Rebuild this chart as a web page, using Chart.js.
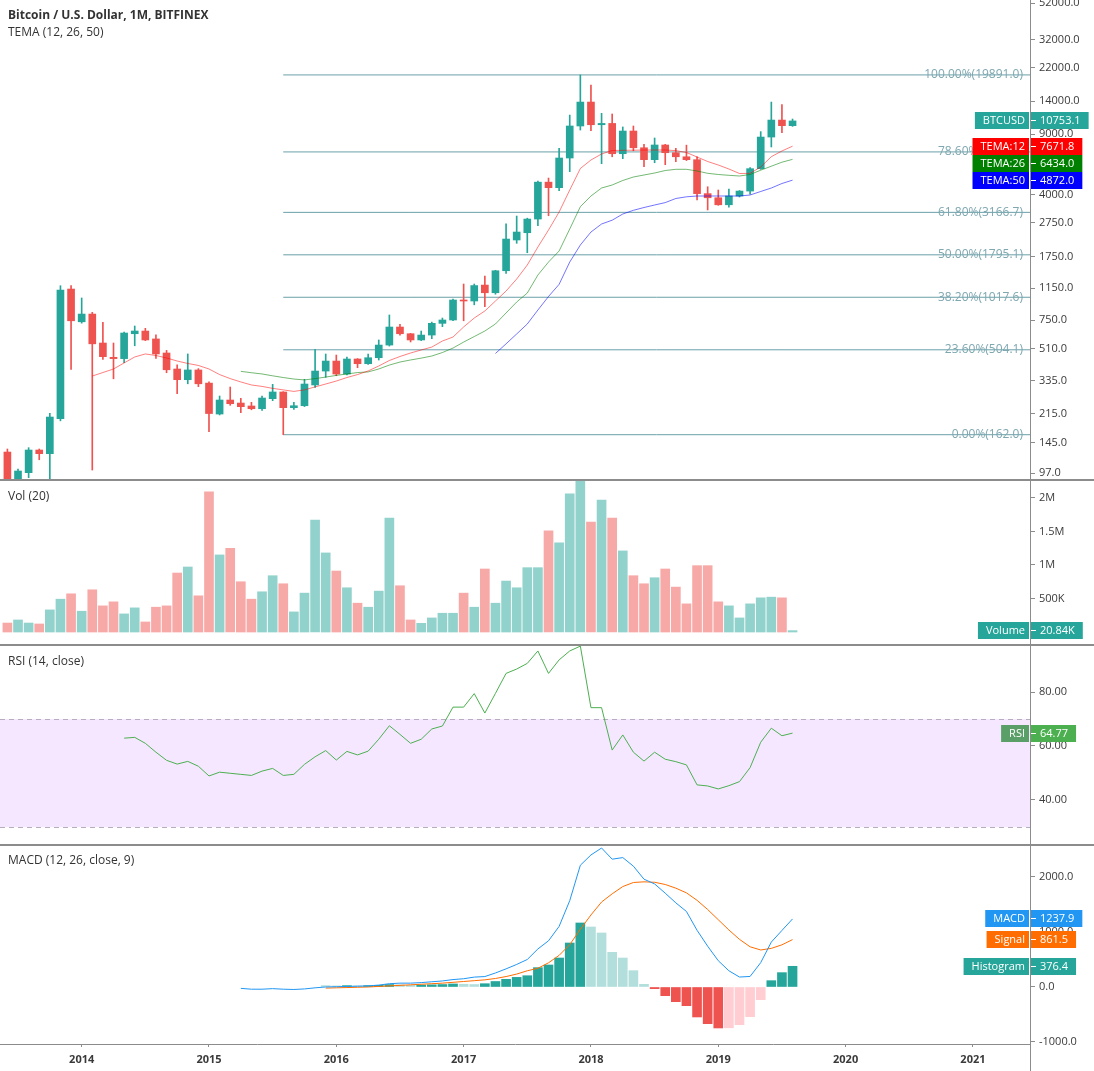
<!DOCTYPE html>
<html>
<head>
<meta charset="utf-8">
<title>Bitcoin / U.S. Dollar, 1M, BITFINEX</title>
<script src="https://cdn.jsdelivr.net/npm/chart.js@4.4.1/dist/chart.umd.min.js"></script>
<style>
  body { margin: 0; background: #fff; }
  #board { position: relative; width: 1094px; height: 1071px; overflow: hidden; background: #fff; }
  #board canvas { position: absolute; left: 0; }
  .sep { position: absolute; left: 0; width: 1094px; height: 2px; background: #8c8c8c; }
  .axisline { position: absolute; left: 1030px; width: 1px; background: #8c8c8c; }
</style>
</head>
<body>
<div id="board">
  <canvas id="price" width="1094" height="479" style="top:0"></canvas>
  <div class="sep" style="top:479px"></div>
  <canvas id="vol" width="1094" height="163" style="top:481px"></canvas>
  <div class="sep" style="top:644px"></div>
  <canvas id="rsi" width="1094" height="198" style="top:646px"></canvas>
  <div class="sep" style="top:844px"></div>
  <canvas id="macd" width="1094" height="225" style="top:846px"></canvas>
  <div class="axisline" style="top:1044px;height:27px"></div>
</div>
<script>
// monthly bars, Jun 2013 .. Aug 2019
const months = [
  '2013-06','2013-07','2013-08','2013-09','2013-10','2013-11','2013-12',
  '2014-01','2014-02','2014-03','2014-04','2014-05','2014-06','2014-07','2014-08','2014-09','2014-10','2014-11','2014-12',
  '2015-01','2015-02','2015-03','2015-04','2015-05','2015-06','2015-07','2015-08','2015-09','2015-10','2015-11','2015-12',
  '2016-01','2016-02','2016-03','2016-04','2016-05','2016-06','2016-07','2016-08','2016-09','2016-10','2016-11','2016-12',
  '2017-01','2017-02','2017-03','2017-04','2017-05','2017-06','2017-07','2017-08','2017-09','2017-10','2017-11','2017-12',
  '2018-01','2018-02','2018-03','2018-04','2018-05','2018-06','2018-07','2018-08','2018-09','2018-10','2018-11','2018-12',
  '2019-01','2019-02','2019-03','2019-04','2019-05','2019-06','2019-07','2019-08'
];

const open = [
  128.5, 88, 97.5, 132, 125.7, 200.6, 1136, 733, 813, 552,
  456, 448, 625, 648, 583, 483, 390, 338, 385, 323,
  213.6, 257.6, 247.4, 237.8, 229.3, 262.2, 286.8, 232.5, 238.7, 315,
  379.5, 433.8, 364.6, 445.8, 418.6, 453.5, 537, 683.6, 625, 575,
  614, 718, 751, 981, 968, 1198, 1081, 1451, 2189, 2412,
  2896, 4743, 4404, 6551, 10050, 13840, 10220, 10400, 6937, 9395,
  7513, 6405, 7795, 7030, 6660, 6405, 4068, 3850, 3505, 3941,
  4210, 5680, 8670, 10880, 10090
];
const high = [
  133.8, 102.4, 136.2, 133.8, 215.7, 1188, 1188, 1008, 832, 727,
  552, 639, 693, 672, 615, 500, 412, 477, 392, 329,
  271.8, 306.5, 263.5, 249.8, 271.8, 317.6, 288, 249.8, 339.7, 507,
  476.6, 470, 458, 448, 476, 575, 803, 709, 628, 648,
  730, 771, 994, 1215, 1215, 1352, 1460, 2713, 3015, 2930,
  4810, 5010, 7460, 11630, 19891, 17370, 11900, 11800, 9920, 10050,
  7863, 8560, 7865, 7460, 7780, 6660, 4460, 4270, 4325, 4240,
  5755, 9320, 13840, 13360, 11030
];
const low = [
  85, 65, 91.2, 115.9, 88, 195, 388, 720, 101, 444,
  342, 424, 532, 570, 450, 371, 280, 320, 308, 168.7,
  211, 240, 217.5, 226, 224.5, 255.3, 162, 227.5, 236, 305,
  349, 356.4, 360, 396.8, 414, 439.7, 530, 614, 560, 570,
  585, 687, 745, 743, 920, 897, 1060, 1400, 2094, 1846,
  2651, 3027, 4236, 5459, 9520, 9430, 6070, 6660, 6490, 7217,
  5836, 6148, 5990, 6235, 6330, 3738, 3270, 3480, 3400, 3890,
  4035, 5630, 7590, 9190, 10000
];
const close = [
  88, 99.7, 132, 125.7, 205.2, 1121, 743, 813, 546, 460,
  448, 631, 648, 575, 477, 386, 338, 385, 320, 215,
  257.6, 245.2, 235.6, 229.3, 264.6, 286.8, 232.5, 238.7, 319, 379.5,
  433.8, 364.6, 445.8, 418.6, 453.5, 537.1, 683.6, 625, 575, 614,
  718, 751, 981, 968, 1190, 1081, 1451, 2217, 2434, 2896,
  4743, 4404, 6551, 10050, 13840, 10220, 10400, 6937, 9395, 7513,
  6405, 7795, 7030, 6660, 6405, 4068, 3850, 3505, 3941, 4210,
  5680, 8670, 10880, 10090, 10753.1
];
const volume = [
  134000, 180000, 134000, 120000, 330000, 490000, 570000, 310000, 630000, 390000,
  450000, 270000, 360000, 150000, 370000, 390000, 880000, 970000, 540000, 2090000,
  1150000, 1250000, 750000, 490000, 600000, 840000, 720000, 300000, 580000, 1670000,
  1180000, 910000, 660000, 430000, 370000, 610000, 1700000, 690000, 180000, 130000,
  210000, 280000, 280000, 580000, 370000, 940000, 430000, 760000, 660000, 960000,
  960000, 1510000, 1330000, 2060000, 2253000, 1640000, 1970000, 1700000, 1210000, 840000,
  720000, 810000, 940000, 670000, 420000, 990000, 990000, 450000, 390000, 210000,
  420000, 510000, 520000, 510000, 20840
];

const tema12 = [
  null, null, null, null, null, null, null, null, 355, 372,
  390, 423, 458, 477, 467, 452, 434, 420, 409, 390,
  362, 343, 328, 315, 309, 301, 295, 289, 295, 307,
  319, 332, 348, 362, 380, 406, 437, 461, 483, 503,
  523, 567, 598, 684, 771, 847, 968, 1106, 1299, 1566,
  1993, 2501, 3182, 4270, 5693, 6378, 6911, 7242, 7261, 7270,
  7280, 7290, 7290, 7231, 7050, 6639, 6251, 5965, 5655, 5324,
  5338, 5808, 6666, 7194, 7671.8
];
const tema26 = [
  null, null, null, null, null, null, null, null, null, null,
  null, null, null, null, null, null, null, null, null, null,
  null, null, 378, 371, 365, 356, 348, 341, 337, 343,
  350, 358, 365, 372, 375, 390, 411, 428, 440, 451,
  464, 486, 516, 559, 602, 648, 712, 825, 955, 1077,
  1370, 1630, 1889, 2535, 3416, 3941, 4386, 4566, 4849, 5081,
  5219, 5360, 5542, 5632, 5632, 5506, 5339, 5254, 5198, 5149,
  5254, 5564, 5870, 6193, 6434.0
];
const tema50 = [
  null, null, null, null, null, null, null, null, null, null,
  null, null, null, null, null, null, null, null, null, null,
  null, null, null, null, null, null, null, null, null, null,
  null, null, null, null, null, null, null, null, null, null,
  null, null, null, null, null, null, 480, 546, 623, 712,
  858, 1028, 1210, 1630, 2047, 2435, 2710, 2852, 3098, 3255,
  3379, 3494, 3608, 3812, 3899, 3941, 3941, 3941, 3941, 3941,
  3994, 4186, 4386, 4658, 4872.0
];

const rsi = [
  null, null, null, null, null, null, null, null, null, null,
  null, 62.9, 63.2, 61.0, 57.7, 54.7, 53.3, 54.3, 52.5, 48.9,
  50.3, 49.9, 49.5, 49.1, 50.7, 51.7, 49.1, 49.5, 53.2, 56.0,
  58.3, 54.8, 58.0, 56.7, 58.1, 62.5, 67.5, 64.3, 61.0, 62.5,
  66.3, 67.4, 74.4, 74.4, 79.4, 72.2, 79.5, 86.9, 88.5, 90.6,
  95.2, 86.9, 91.9, 95.2, 97.0, 74.2, 74.2, 58.5, 64.1, 57.7,
  54.4, 57.7, 55.1, 54.2, 53.0, 45.6, 45.2, 44.1, 45.3, 46.8,
  52.0, 61.4, 66.6, 63.8, 64.77
];

const macd = [
  null, null, null, null, null, null, null, null, null, null,
  null, null, null, null, null, null, null, null, null, null,
  null, null, -25, -40, -40, -30, -40, -45, -35, -15,
  0, 5, 10, 15, 20, 35, 60, 70, 70, 80,
  95, 110, 135, 150, 180, 190, 255, 330, 410, 500,
  692, 840, 1102, 1570, 2214, 2401, 2527, 2324, 2353, 2197,
  1960, 1874, 1706, 1530, 1373, 1031, 742, 478, 295, 181,
  192, 443, 817, 1028, 1237.9
];
const signal = [
  null, null, null, null, null, null, null, null, null, null,
  null, null, null, null, null, null, null, null, null, null,
  null, null, null, null, null, null, null, null, null, null,
  -20, -15, -10, -5, 0, 10, 20, 30, 40, 50,
  60, 70, 85, 100, 115, 130, 155, 190, 235, 295,
  340, 440, 575, 770, 1050, 1310, 1545, 1694, 1826, 1900,
  1912, 1904, 1864, 1797, 1712, 1576, 1409, 1223, 1037, 866,
  731, 673, 702, 767, 861.5
];
const histogram = [
  null, null, null, null, null, null, null, null, null, null,
  null, null, null, null, null, null, null, null, null, null,
  null, null, null, null, null, null, null, null, null, null,
  25, 20, 25, 20, 25, 30, 45, 40, 30, 35,
  40, 45, 55, 50, 45, 60, 100, 140, 175, 205,
  352, 400, 527, 800, 1164, 1091, 982, 630, 527, 297,
  48, -30, -158, -267, -339, -545, -667, -745, -742, -685,
  -539, -230, 115, 261, 376.4
];

// fib retracement drawn from the Aug 2015 low to the Dec 2017 high
const fibStartIndex = 26;
const fibRatios = [0, 0.236, 0.382, 0.5, 0.618, 0.786, 1];
const fibPrices = [162.0, 504.1, 1017.6, 1795.1, 3166.7, 7105.3, 19891.0];

const priceTicks = [97, 145, 215, 335, 510, 750, 1150, 1750, 2750, 4000, 6000, 9000, 14000, 22000, 32000, 52000];
const volumeTicks = [500000, 1000000, 1500000, 2000000];
const rsiTicks = [40, 60, 80];
const macdTicks = [-1000, 0, 1000, 2000];
const yearTicks = [7, 19, 31, 43, 55, 67, 79, 91];
const yearLabels = ['2014', '2015', '2016', '2017', '2018', '2019', '2020', '2021'];

const FONT = '"Open Sans", "DejaVu Sans", sans-serif';
const AXIS = '#8c8c8c';
const TXT = '#3a3a3a';
const UP = '#26a69a', DOWN = '#ef5350';
const X_MIN = -0.6975, X_MAX = 96.38;
const last = close.length - 1;

Chart.defaults.font.family = FONT;
Chart.defaults.animation = false;

const isUp = i => close[i] >= open[i];
const pts = arr => arr.map((v, i) => ({ x: i, y: v }));

function lineSet(arr, color, order) {
  return { type: 'line', data: pts(arr), borderColor: color, borderWidth: 1, pointRadius: 0,
           tension: 0, fill: false, order: order };
}

function drawTags(chart, tags) {
  const ctx = chart.ctx, ys = chart.scales.y, right = chart.chartArea.right;
  ctx.save();
  ctx.font = '11px ' + FONT;
  ctx.textBaseline = 'middle';
  const list = tags.map(t => Object.assign({ py: ys.getPixelForValue(t.value) }, t))
                   .sort((a, b) => a.py - b.py);
  let prev = -1e9;
  list.forEach(t => {
    const y = Math.max(t.py, prev + 17);
    prev = y;
    const top = Math.round(y - 8.5);
    const nw = ctx.measureText(t.name).width + 13;
    const vw = ctx.measureText(t.text).width + 17;
    ctx.fillStyle = t.nameColor || t.color;
    ctx.fillRect(right - nw, top, nw - 1, 17);
    ctx.fillStyle = t.color;
    ctx.fillRect(right + 1, top, vw, 17);
    ctx.fillStyle = '#fff';
    ctx.textAlign = 'right';
    ctx.fillText(t.name, right - 5, top + 9);
    ctx.textAlign = 'left';
    ctx.fillText(t.text, right + 10, top + 9);
    ctx.fillRect(right + 1, top + 8, 5, 1);
  });
  ctx.restore();
}

const paneDecor = {
  id: 'paneDecor',
  beforeDatasetsDraw(chart, args, o) {
    if (!o.band) return;
    const ctx = chart.ctx, a = chart.chartArea, ys = chart.scales.y;
    const yHi = ys.getPixelForValue(o.band[1]), yLo = ys.getPixelForValue(o.band[0]);
    ctx.save();
    ctx.fillStyle = 'rgba(153, 21, 255, 0.1)';
    ctx.fillRect(a.left, yHi, a.right - a.left, yLo - yHi);
    ctx.strokeStyle = '#b7adbf';
    ctx.lineWidth = 1;
    ctx.setLineDash([5, 4]);
    [yHi, yLo].forEach(py => {
      ctx.beginPath();
      ctx.moveTo(a.left, Math.round(py) + 0.5);
      ctx.lineTo(a.right, Math.round(py) + 0.5);
      ctx.stroke();
    });
    ctx.restore();
  },
  afterDatasetsDraw(chart, args, o) {
    if (!o.fib) return;
    const ctx = chart.ctx, ys = chart.scales.y, a = chart.chartArea;
    ctx.save();
    ctx.font = '12px ' + FONT;
    ctx.fillStyle = '#7ea7b0';
    ctx.textAlign = 'right';
    ctx.textBaseline = 'middle';
    fibRatios.forEach((r, k) => {
      const txt = (r * 100).toFixed(2) + '%(' + fibPrices[k].toFixed(1) + ')';
      ctx.fillText(txt, a.right - 7, ys.getPixelForValue(fibPrices[k]));
    });
    ctx.restore();
  },
  afterDraw(chart, args, o) {
    const ctx = chart.ctx;
    ctx.save();
    ctx.fillStyle = '#333';
    ctx.textBaseline = 'middle';
    ctx.textAlign = 'left';
    (o.titles || []).forEach(t => {
      ctx.font = (t.bold ? 'bold ' : '') + '12px ' + FONT;
      ctx.fillText(t.text, 8, t.y);
    });
    ctx.restore();
    if (o.tags) drawTags(chart, o.tags);
  }
};
Chart.register(paneDecor);

function xHidden() {
  return { type: 'linear', min: X_MIN, max: X_MAX, offset: false, display: false };
}
function yRight(extra, tickList, fmt) {
  return Object.assign({
    position: 'right',
    bounds: 'data',
    beginAtZero: false,
    afterFit(s) { s.width = 64; s.paddingTop = 0; s.paddingBottom = 0; },
    afterBuildTicks(s) { s.ticks = tickList.map(v => ({ value: v })); },
    grid: { drawOnChartArea: false, drawTicks: true, tickLength: 5, color: AXIS, offset: false },
    border: { display: true, color: AXIS, width: 1 },
    ticks: { color: TXT, font: { size: 11 }, padding: 4, autoSkip: false, maxRotation: 0, callback: fmt }
  }, extra);
}
function baseOptions(scales, decor) {
  return {
    responsive: false,
    maintainAspectRatio: false,
    devicePixelRatio: 1,
    animation: false,
    events: [],
    layout: { padding: 0 },
    scales: scales,
    plugins: { legend: { display: false }, tooltip: { enabled: false }, paneDecor: decor }
  };
}

// ---- price pane ----
const fibSets = fibPrices.map(p => ({
  type: 'line', data: [{ x: fibStartIndex, y: p }, { x: X_MAX, y: p }],
  borderColor: '#6aa0a9', borderWidth: 1, pointRadius: 0, fill: false, order: 5
}));

new Chart(document.getElementById('price'), {
  type: 'bar',
  data: {
    datasets: [
      lineSet(tema12, 'rgba(255, 0, 0, 0.5)', 0),
      lineSet(tema26, 'rgba(0, 128, 0, 0.55)', 0),
      lineSet(tema50, 'rgba(0, 0, 255, 0.55)', 0),
      { type: 'bar', data: open.map((o, i) => ({ x: i, y: [o, close[i]] })),
        backgroundColor: c => isUp(c.dataIndex) ? UP : DOWN,
        barThickness: 7, minBarLength: 1, grouped: false, borderWidth: 0, order: 1 },
      { type: 'bar', data: low.map((l, i) => ({ x: i, y: [l, high[i]] })),
        backgroundColor: c => isUp(c.dataIndex) ? UP : DOWN,
        barThickness: 1, grouped: false, borderWidth: 0, order: 2 },
      ...fibSets
    ]
  },
  options: baseOptions({
    x: xHidden(),
    y: yRight({ type: 'logarithmic', min: 89.6, max: 54172 }, priceTicks, v => Number(v).toFixed(1))
  }, {
    fib: true,
    titles: [
      { text: 'Bitcoin / U.S. Dollar, 1M, BITFINEX', y: 16, bold: true },
      { text: 'TEMA (12, 26, 50)', y: 33 }
    ],
    tags: [
      { name: 'BTCUSD', value: close[last], text: close[last].toFixed(1), color: isUp(last) ? UP : DOWN },
      { name: 'TEMA:12', value: tema12[last], text: tema12[last].toFixed(1), color: '#ff0000' },
      { name: 'TEMA:26', value: tema26[last], text: tema26[last].toFixed(1), color: '#008000' },
      { name: 'TEMA:50', value: tema50[last], text: tema50[last].toFixed(1), color: '#0000ff' }
    ]
  })
});

// ---- volume pane ----
const volFmt = v => v >= 1e6 ? (v / 1e6) + 'M' : (v / 1e3) + 'K';
new Chart(document.getElementById('vol'), {
  type: 'bar',
  data: {
    datasets: [{
      data: pts(volume),
      backgroundColor: c => isUp(c.dataIndex) ? 'rgba(38, 166, 154, 0.5)' : 'rgba(239, 83, 80, 0.5)',
      barThickness: 9, grouped: false, borderWidth: 0
    }]
  },
  options: baseOptions({
    x: xHidden(),
    y: yRight({ type: 'linear', min: -178800, max: 2253000 }, volumeTicks, volFmt)
  }, {
    titles: [{ text: 'Vol (20)', y: 16 }],
    tags: [{ name: 'Volume', value: volume[last], text: (volume[last] / 1000).toFixed(2) + 'K',
             color: isUp(last) ? UP : DOWN }]
  })
});

// ---- RSI pane ----
new Chart(document.getElementById('rsi'), {
  type: 'line',
  data: { datasets: [lineSet(rsi, '#4caf50', 0)] },
  options: baseOptions({
    x: xHidden(),
    y: yRight({ type: 'linear', min: 23.7, max: 97.04 }, rsiTicks, v => Number(v).toFixed(2))
  }, {
    band: [30, 70],
    titles: [{ text: 'RSI (14, close)', y: 16 }],
    tags: [{ name: 'RSI', value: rsi[last], text: rsi[last].toFixed(2), color: '#4caf50', nameColor: '#5b9f68' }]
  })
});

// ---- MACD pane ----
const histColor = c => {
  const i = c.dataIndex, h = histogram[i], p = histogram[i - 1];
  if (h >= 0) return (p != null && p < h) ? '#26a69a' : '#b2dfdb';
  return (p != null && p < h) ? '#ffcdd2' : '#ef5350';
};
new Chart(document.getElementById('macd'), {
  type: 'bar',
  data: {
    datasets: [
      lineSet(macd, '#2196f3', 0),
      lineSet(signal, '#ff6d00', 0),
      { type: 'bar', data: pts(histogram), backgroundColor: histColor,
        barThickness: 9, grouped: false, borderWidth: 0, order: 1 }
    ]
  },
  options: baseOptions({
    x: {
      type: 'linear', min: X_MIN, max: X_MAX, offset: false, position: 'bottom',
      afterFit(s) { s.height = 27; s.paddingLeft = 0; s.paddingRight = 0; },
      afterBuildTicks(s) { s.ticks = yearTicks.map(v => ({ value: v })); },
      grid: { drawOnChartArea: false, drawTicks: true, tickLength: 3, color: AXIS, offset: false },
      border: { display: true, color: AXIS, width: 1 },
      ticks: { color: TXT, font: { size: 11, weight: 'bold' }, padding: 6, autoSkip: false, maxRotation: 0,
               callback: (v, k) => yearLabels[k] }
    },
    y: yRight({ type: 'linear', min: -1036.4, max: 2563.6 }, macdTicks, v => Number(v).toFixed(1))
  }, {
    titles: [{ text: 'MACD (12, 26, close, 9)', y: 15 }],
    tags: [
      { name: 'MACD', value: macd[last], text: macd[last].toFixed(1), color: '#2196f3' },
      { name: 'Signal', value: signal[last], text: signal[last].toFixed(1), color: '#ff6d00' },
      { name: 'Histogram', value: histogram[last], text: histogram[last].toFixed(1), color: '#26a69a' }
    ]
  })
});
</script>
</body>
</html>
